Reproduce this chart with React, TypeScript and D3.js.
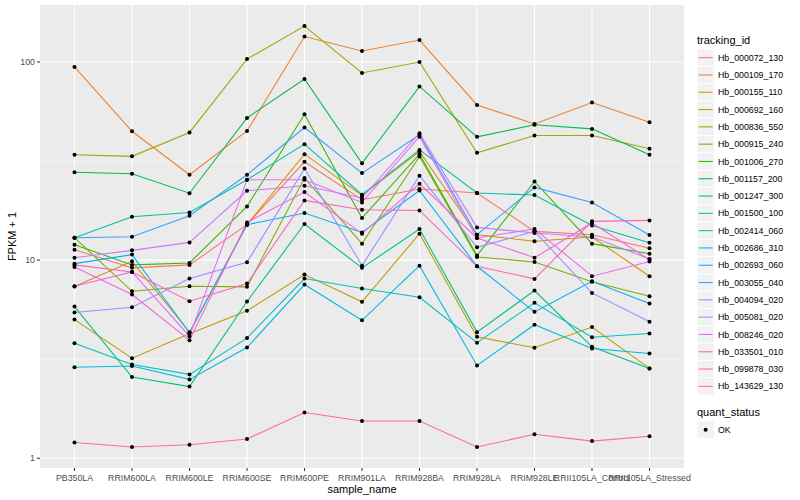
import * as d3 from "d3";
import React from "react";

const samples = ["PB350LA", "RRIM600LA", "RRIM600LE", "RRIM600SE", "RRIM600PE", "RRIM901LA",
    "RRIM928BA", "RRIM928LA", "RRIM928LE", "RRII105LA_Control", "RRII105LA_Stressed"];

const trackingIds = ["Hb_000072_130", "Hb_000109_170", "Hb_000155_110", "Hb_000692_160", "Hb_000836_550",
    "Hb_000915_240", "Hb_001006_270", "Hb_001157_200", "Hb_001247_300", "Hb_001500_100",
    "Hb_002414_060", "Hb_002686_310", "Hb_002693_060", "Hb_003055_040", "Hb_004094_020",
    "Hb_005081_020", "Hb_008246_020", "Hb_033501_010", "Hb_099878_030", "Hb_143629_130"];

// ggplot hue palette, 20 levels
const hueColors = ["#F8766D", "#EA8331", "#D89000", "#C09B00", "#A3A500", "#7CAE00", "#39B600", "#00BB4E",
    "#00BF7D", "#00C1A3", "#00BFC4", "#00BAE0", "#00B0F6", "#35A2FF", "#9590FF", "#C77CFF", "#E76BF3",
    "#FA62DB", "#FF62BC", "#FF6C91"];

// FPKM + 1, one value per sample
const hb000072 = [11.29, 9.14, 9.46, 15.1, 31.35, 20.17, 22.84, 21.81, 13.97, 13.44, 11.47];
const hb000109 = [94.4, 44.7, 26.96, 44.9, 134.4, 113.6, 129.1, 60.7, 48.7, 62.5, 49.6];
const hb000155 = [7.36, 9.86, 4.33, 15.1, 34.28, 21.21, 35.33, 13.44, 12.44, 13.09, 8.29];
const hb000692 = [5.01, 3.2, 4.25, 5.55, 8.45, 6.16, 13.6, 4.1, 3.61, 4.59, 2.84];
const hb000836 = [34.0, 33.4, 44.1, 103.5, 151.9, 88.0, 100.0, 34.8, 42.6, 42.6, 36.5];
const hb000915 = [12.98, 6.96, 7.38, 7.33, 25.95, 12.11, 33.33, 10.38, 9.79, 7.77, 6.57];
const hb001006 = [11.97, 9.46, 9.68, 18.66, 54.5, 16.31, 34.28, 10.54, 24.95, 12.11, 10.78];
const hb001157 = [27.76, 27.28, 21.76, 52.2, 82.1, 30.81, 75.3, 41.9, 48.2, 45.97, 34.0];
const hb001247 = [5.83, 2.57, 2.3, 6.18, 15.22, 9.14, 14.36, 4.33, 7.02, 3.65, 2.84];
const hb001500 = [12.98, 16.56, 17.41, 25.44, 38.5, 21.38, 36.0, 21.81, 21.31, 14.97, 12.25];
const hb002414 = [3.8, 2.97, 2.65, 4.04, 8.07, 7.19, 6.49, 3.83, 6.09, 4.08, 4.26];
const hb002686 = [2.88, 2.92, 2.5, 3.62, 7.53, 4.97, 9.38, 2.94, 4.72, 3.58, 3.38];
const hb002693 = [9.6, 10.66, 4.3, 15.1, 17.29, 13.8, 22.47, 9.31, 5.48, 7.82, 6.04];
const hb003055 = [12.98, 13.13, 16.76, 26.96, 46.7, 27.5, 42.9, 13.44, 23.27, 19.55, 13.4];
const hb004094 = [5.44, 5.78, 8.07, 9.75, 29.0, 9.38, 26.65, 11.6, 13.97, 6.83, 4.88];
const hb005081 = [10.29, 11.2, 12.29, 22.39, 23.73, 20.58, 43.7, 14.63, 13.71, 13.09, 10.14];
const hb008246 = [7.38, 8.72, 4.13, 25.44, 25.44, 19.55, 42.0, 12.94, 14.36, 8.29, 9.83];
const hb033501 = [9.24, 6.7, 3.94, 15.5, 22.06, 13.6, 24.29, 12.94, 10.29, 15.4, 10.06];
const hb099878 = [9.46, 8.72, 6.2, 7.61, 20.01, 17.96, 17.82, 9.31, 8.04, 15.69, 15.87];
const hb143629 = [1.2, 1.14, 1.17, 1.25, 1.7, 1.54, 1.54, 1.14, 1.32, 1.22, 1.29];

const seriesValues = [hb000072, hb000109, hb000155, hb000692, hb000836, hb000915, hb001006, hb001157,
    hb001247, hb001500, hb002414, hb002686, hb002693, hb003055, hb004094, hb005081, hb008246,
    hb033501, hb099878, hb143629];

const yBreaks = [1, 10, 100];
const yMinorBreaks = [Math.pow(10, 0.5), Math.pow(10, 1.5), Math.pow(10, 2.5)];

const W = 800;
const H = 500;
const panel = { left: 40, right: 684, top: 5, bottom: 468 };
const font = "'Liberation Sans', Arial, Helvetica, sans-serif";

export default function App() {
    const all = seriesValues.flat();
    const lmin = Math.log10(d3.min(all) || 1);
    const lmax = Math.log10(d3.max(all) || 10);
    const pad = (lmax - lmin) * 0.05;

    const y = d3.scaleLog()
        .domain([Math.pow(10, lmin - pad), Math.pow(10, lmax + pad)])
        .range([panel.bottom, panel.top]);

    const x = d3.scalePoint<string>()
        .domain(samples)
        .range([panel.left, panel.right])
        .padding(0.6);

    const line = d3.line<number>()
        .x((_, i) => x(samples[i]) as number)
        .y(d => y(d));

    const legendX = 697;
    const keyTop = 49;
    const keyStep = 17.3;
    const cx = (panel.left + panel.right) / 2;

    return (
        <svg width={W} height={H} style={{ position: "absolute", left: 0, top: 0, background: "#fff" }}
             fontFamily={font}>
            <rect x={panel.left} y={panel.top} width={panel.right - panel.left}
                  height={panel.bottom - panel.top} fill="#EBEBEB"/>
            {yMinorBreaks.filter(v => y(v) > panel.top && y(v) < panel.bottom).map(v => (
                <line key={"mn" + v} x1={panel.left} x2={panel.right} y1={y(v)} y2={y(v)}
                      stroke="#fff" strokeWidth={0.55}/>
            ))}
            {yBreaks.map(v => (
                <line key={"mj" + v} x1={panel.left} x2={panel.right} y1={y(v)} y2={y(v)}
                      stroke="#fff" strokeWidth={1.07}/>
            ))}
            {samples.map(s => (
                <line key={"vx" + s} x1={x(s)} x2={x(s)} y1={panel.top} y2={panel.bottom}
                      stroke="#fff" strokeWidth={1.07}/>
            ))}

            {seriesValues.map((vals, i) => (
                <path key={"ln" + i} d={line(vals) || ""} fill="none" stroke={hueColors[i]} strokeWidth={1.07}/>
            ))}
            {seriesValues.map((vals, i) => vals.map((v, j) => (
                <circle key={"pt" + i + "_" + j} cx={x(samples[j])} cy={y(v)} r={2} fill="#000"/>
            )))}

            {/* y axis */}
            {yBreaks.map(v => (
                <g key={"yt" + v}>
                    <line x1={panel.left - 3} x2={panel.left} y1={y(v)} y2={y(v)} stroke="#333" strokeWidth={1.07}/>
                    <text x={panel.left - 5} y={y(v)} dy="0.35em" textAnchor="end" fontSize={8.8}
                          fill="#4D4D4D">{v}</text>
                </g>
            ))}
            {/* x axis */}
            {samples.map(s => (
                <g key={"xt" + s}>
                    <line x1={x(s)} x2={x(s)} y1={panel.bottom} y2={panel.bottom + 3} stroke="#333" strokeWidth={1.07}/>
                    <text x={x(s)} y={panel.bottom + 13} textAnchor="middle" fontSize={8.8} fill="#4D4D4D">{s}</text>
                </g>
            ))}
            <text x={cx} y={493} textAnchor="middle" fontSize={11} fill="#000">sample_name</text>
            <text transform={`translate(16,${(panel.top + panel.bottom) / 2}) rotate(-90)`} textAnchor="middle"
                  fontSize={11} fill="#000">FPKM + 1</text>

            {/* legend: tracking_id */}
            <text x={legendX} y={44} fontSize={11} fill="#000">tracking_id</text>
            {trackingIds.map((id, i) => {
                const ky = keyTop + i * keyStep;
                return (
                    <g key={"lg" + id}>
                        <rect x={legendX} y={ky} width={17.3} height={17.3} fill="#F2F2F2" stroke="#fff" strokeWidth={1}/>
                        <line x1={legendX + 1.7} x2={legendX + 15.6} y1={ky + 8.65} y2={ky + 8.65}
                              stroke={hueColors[i]} strokeWidth={1.07}/>
                        <text x={legendX + 21} y={ky + 8.65} dy="0.35em" fontSize={8.8} fill="#000">{id}</text>
                    </g>
                );
            })}

            {/* legend: quant_status */}
            <text x={legendX} y={416} fontSize={11} fill="#000">quant_status</text>
            <rect x={legendX} y={421} width={17.3} height={17.3} fill="#F2F2F2" stroke="#fff" strokeWidth={1}/>
            <circle cx={legendX + 8.65} cy={429.65} r={2} fill="#000"/>
            <text x={legendX + 21} y={429.65} dy="0.35em" fontSize={8.8} fill="#000">OK</text>
        </svg>
    );
}
